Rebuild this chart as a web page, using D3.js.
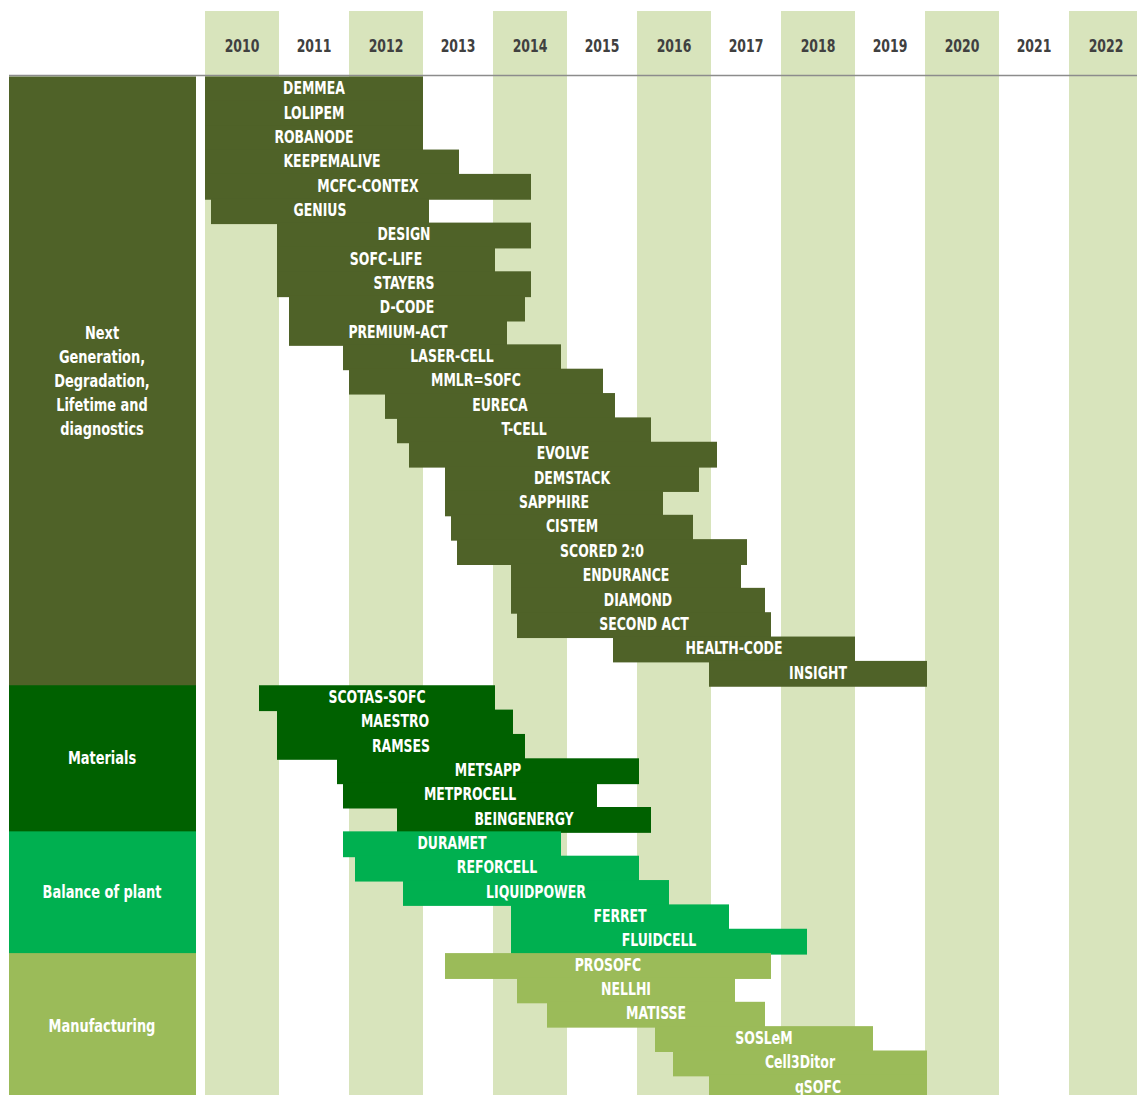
<!DOCTYPE html>
<html>
<head>
<meta charset="utf-8">
<script src="https://cdn.jsdelivr.net/npm/d3@7"></script>
<style>
  body { margin: 0; background: #fff; }
  text { font-family: "DejaVu Sans Condensed", "DejaVu Sans", sans-serif; font-weight: bold; }
</style>
</head>
<body>
<div id="chart"></div>
<script>
const years = d3.range(2010, 2023);

const categories = ["Next Generation, Degradation, Lifetime and diagnostics", "Materials", "Balance of plant", "Manufacturing"];
const categoryLines = [
  ["Next", "Generation,", "Degradation,", "Lifetime and", "diagnostics"],
  ["Materials"],
  ["Balance of plant"],
  ["Manufacturing"]
];

const projects = [
  "DEMMEA", "LOLIPEM", "ROBANODE", "KEEPEMALIVE", "MCFC-CONTEX", "GENIUS", "DESIGN", "SOFC-LIFE",
  "STAYERS", "D-CODE", "PREMIUM-ACT", "LASER-CELL", "MMLR=SOFC", "EURECA", "T-CELL", "EVOLVE",
  "DEMSTACK", "SAPPHIRE", "CISTEM", "SCORED 2:0", "ENDURANCE", "DIAMOND", "SECOND ACT", "HEALTH-CODE", "INSIGHT",
  "SCOTAS-SOFC", "MAESTRO", "RAMSES", "METSAPP", "METPROCELL", "BEINGENERGY",
  "DURAMET", "REFORCELL", "LIQUIDPOWER", "FERRET", "FLUIDCELL",
  "PROSOFC", "NELLHI", "MATISSE", "SOSLeM", "Cell3Ditor", "qSOFC"
];

// index into categories
const projectCategory = [
  0, 0, 0, 0, 0, 0, 0, 0, 0, 0, 0, 0, 0, 0, 0, 0, 0, 0, 0, 0, 0, 0, 0, 0, 0,
  1, 1, 1, 1, 1, 1,
  2, 2, 2, 2, 2,
  3, 3, 3, 3, 3, 3
];

// first month
const starts = [
  "2010-01", "2010-01", "2010-01", "2010-01", "2010-01", "2010-02", "2011-01", "2011-01",
  "2011-01", "2011-03", "2011-03", "2011-12", "2012-01", "2012-07", "2012-09", "2012-11",
  "2013-05", "2013-05", "2013-06", "2013-07", "2014-04", "2014-04", "2014-05", "2015-09", "2017-01",
  "2010-10", "2011-01", "2011-01", "2011-11", "2011-12", "2012-09",
  "2011-12", "2012-02", "2012-10", "2014-04", "2014-04",
  "2013-05", "2014-05", "2014-10", "2016-04", "2016-07", "2017-01"
];

// last month
const ends = [
  "2012-12", "2012-12", "2012-12", "2013-06", "2014-06", "2013-01", "2014-06", "2013-12",
  "2014-06", "2014-05", "2014-02", "2014-11", "2015-06", "2015-08", "2016-02", "2017-01",
  "2016-10", "2016-04", "2016-09", "2017-06", "2017-05", "2017-09", "2017-10", "2018-12", "2019-12",
  "2013-12", "2014-03", "2014-05", "2015-12", "2015-05", "2016-02",
  "2014-11", "2015-12", "2016-05", "2017-03", "2018-04",
  "2017-10", "2017-04", "2017-09", "2019-03", "2019-12", "2019-12"
];

const width = 1137;
const height = 1095;
const rowStep = 24.35;
const marginTop = 76.5;
const narrow = 0.77; // squeeze text to look like a condensed face

// "2012-07" -> decimal year at start of that month
const monthStart = s => +s.slice(0, 4) + (+s.slice(5, 7) - 1) / 12;
const monthEnd = s => monthStart(s) + 1 / 12;

const rows = projects.map((name, i) => ({
  name,
  cat: projectCategory[i],
  start: monthStart(starts[i]),
  end: monthEnd(ends[i])
}));

const x = d3.scaleLinear()
  .domain([2010, 2023])
  .range([205, 205 + 13 * 72]);

const y = d3.scaleBand()
  .domain(projects)
  .range([marginTop, marginTop + projects.length * rowStep]);

const color = d3.scaleOrdinal()
  .domain(d3.range(categories.length))
  .range(["#4f6228", "#006100", "#00b050", "#9bbb59"]);

const svg = d3.select("#chart").append("svg")
  .attr("width", width)
  .attr("height", height)
  .attr("viewBox", [0, 0, width, height]);

// shaded year columns
svg.append("g")
  .selectAll("rect")
  .data(years.filter(d => d % 2 === 0))
  .join("rect")
  .attr("x", d => x(d))
  .attr("y", 11)
  .attr("width", d => x(d + 1) - x(d) + 2)
  .attr("height", height - 11)
  .attr("fill", "#d8e4bc");

svg.append("g")
  .selectAll("text")
  .data(years)
  .join("text")
  .attr("transform", d => `translate(${(x(d) + x(d + 1)) / 2 + 1},52) scale(${narrow},1)`)
  .attr("text-anchor", "middle")
  .attr("font-size", "18px")
  .attr("fill", "#404040")
  .text(d => d);

svg.append("line")
  .attr("x1", 9)
  .attr("x2", width)
  .attr("y1", 75.5)
  .attr("y2", 75.5)
  .attr("stroke", "#8c8c8c")
  .attr("stroke-width", 1.5);

// category blocks on the left
const groups = categories.map((c, i) => {
  const names = projects.filter((p, j) => projectCategory[j] === i);
  return {
    i,
    y0: y(names[0]),
    y1: y(names[names.length - 1]) + y.bandwidth()
  };
});

svg.append("g")
  .selectAll("rect")
  .data(groups)
  .join("rect")
  .attr("x", 9)
  .attr("y", d => d.y0)
  .attr("width", 187)
  .attr("height", d => d.y1 - d.y0 + 1)
  .attr("fill", d => color(d.i));

svg.append("g")
  .selectAll("text")
  .data(groups)
  .join("text")
  .attr("transform", d => `translate(102,${(d.y0 + d.y1) / 2}) scale(0.8,1)`)
  .attr("text-anchor", "middle")
  .attr("font-size", "18px")
  .attr("fill", "#fff")
  .each(function (d) {
    const lines = categoryLines[d.i];
    d3.select(this).selectAll("tspan")
      .data(lines)
      .join("tspan")
      .attr("x", 0)
      .attr("y", (l, k) => (k - (lines.length - 1) / 2) * 24 + 6)
      .text(l => l);
  });

// project bars
svg.append("g")
  .selectAll("rect")
  .data(rows)
  .join("rect")
  .attr("x", d => x(d.start))
  .attr("y", d => y(d.name))
  .attr("width", d => x(d.end) - x(d.start) + 2)
  .attr("height", y.bandwidth() + 1.5)
  .attr("fill", d => color(d.cat));

svg.append("g")
  .selectAll("text")
  .data(rows)
  .join("text")
  .attr("transform", d => `translate(${(x(d.start) + x(d.end) + 2) / 2},${y(d.name) + y.bandwidth() / 2 + 5.5}) scale(${narrow},1)`)
  .attr("text-anchor", "middle")
  .attr("font-size", "18px")
  .attr("fill", "#fff")
  .text(d => d.name);
</script>
</body>
</html>
